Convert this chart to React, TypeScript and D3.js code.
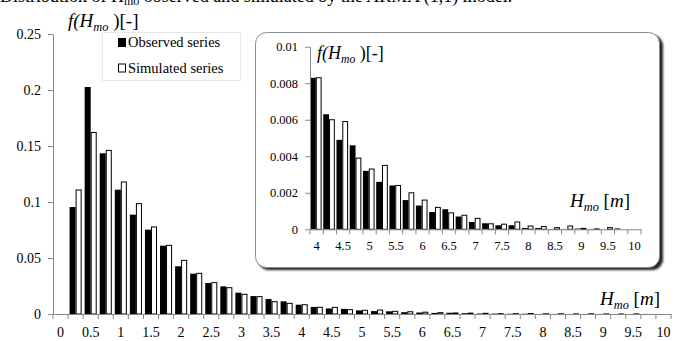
import { useEffect, useRef } from "react";
import * as d3 from "d3";

// bins of H_mo [m], 0.25 m wide
const categories = [
  "0", "0.25", "0.5", "0.75", "1", "1.25", "1.5", "1.75", "2", "2.25",
  "2.5", "2.75", "3", "3.25", "3.5", "3.75", "4", "4.25", "4.5", "4.75",
  "5", "5.25", "5.5", "5.75", "6", "6.25", "6.5", "6.75", "7", "7.25",
  "7.5", "7.75", "8", "8.25", "8.5", "8.75", "9", "9.25", "9.5", "9.75", "10",
];
const observed = [
  0, 0.0955, 0.2027, 0.1435, 0.111, 0.0887, 0.0753, 0.061, 0.0426, 0.036,
  0.0277, 0.0247, 0.019, 0.016, 0.0134, 0.0113, 0.0083, 0.0063, 0.0049, 0.0046,
  0.0032, 0.0026, 0.0024, 0.0016, 0.0013, 0.00095, 0.0011, 0.0007, 0.0004, 0.00033,
  0.00022, 0.00022, 0.00007, 0.00007, 0.00002, 0.00002, 0.00004, 0.00002, 0, 0.00005, 0,
];
const simulated = [
  0, 0.1107, 0.1621, 0.1461, 0.1179, 0.0985, 0.0777, 0.0613, 0.0479, 0.0363,
  0.028, 0.0235, 0.0176, 0.0155, 0.011, 0.0095, 0.0083, 0.006, 0.0059, 0.0039,
  0.0033, 0.0035, 0.0024, 0.002, 0.0016, 0.0012, 0.0009, 0.00077, 0.0006, 0.0003,
  0.00028, 0.0004, 0.00018, 0.00015, 0.00009, 0.00018, 0.00005, 0.00002, 0.00009, 0, 0,
];
const xTickLabels = [
  "0", "0.5", "1", "1.5", "2", "2.5", "3", "3.5", "4", "4.5", "5",
  "5.5", "6", "6.5", "7", "7.5", "8", "8.5", "9", "9.5", "10",
];
const mainYTicks = [0, 0.05, 0.1, 0.15, 0.2, 0.25];
const insetYTicks = [0, 0.002, 0.004, 0.006, 0.008, 0.01];
const insetFrom = "4";

const W = 693;
const H = 341;
const FONT = "Liberation Serif, DejaVu Serif, serif";
const AXIS = "#868686";

type G = d3.Selection<SVGGElement, unknown, null, undefined>;

function drawPanel(
  g: G,
  cats: string[],
  obs: number[],
  sim: number[],
  xr: [number, number],
  yr: [number, number],
  ymax: number,
  yTicks: number[],
  outerPad: number,
  align: number,
  fs: number
) {
  const x = d3.scaleBand<string>().domain(cats).range(xr).padding(0);
  const sub = d3
    .scaleBand<string>()
    .domain(["obs", "sim"])
    .range([0, x.bandwidth()])
    .paddingInner(0)
    .paddingOuter(outerPad)
    .align(align);
  const y = d3.scaleLinear().domain([0, ymax]).range(yr);

  const rows = cats.map((c, i) => ({ c, o: obs[i], s: sim[i] }));

  // bars
  g.selectAll("rect.obs")
    .data(rows)
    .join("rect")
    .attr("class", "obs")
    .attr("x", (d) => x(d.c)! + sub("obs")!)
    .attr("y", (d) => y(d.o))
    .attr("width", sub.bandwidth())
    .attr("height", (d) => y(0) - y(d.o))
    .attr("fill", "#000");
  g.selectAll("rect.sim")
    .data(rows)
    .join("rect")
    .attr("class", "sim")
    .attr("x", (d) => x(d.c)! + sub("sim")! + 0.5)
    .attr("y", (d) => y(d.s))
    .attr("width", sub.bandwidth() - 1)
    .attr("height", (d) => Math.max(0, y(0) - y(d.s)))
    .attr("fill", "#fff")
    .attr("stroke", "#000")
    .attr("stroke-width", 1);

  // x axis: labels every other bin, tick marks on bin edges
  const xa = g
    .append("g")
    .attr("transform", `translate(0,${y(0)})`)
    .call(
      d3
        .axisBottom(x)
        .tickSize(0)
        .tickSizeOuter(0)
        .tickPadding(fs * 0.95)
        .tickFormat((d) => (xTickLabels.includes(d) ? d : ""))
    );
  xa.attr("font-family", null);
  xa.select(".domain").attr("stroke", AXIS);
  xa.selectAll("text").style("font-family", FONT).attr("font-size", fs).attr("fill", "#000");
  const edges = cats.map((c) => x(c)!).concat([xr[1]]);
  xa.selectAll("line.edge")
    .data(edges)
    .join("line")
    .attr("class", "edge")
    .attr("x1", (d) => d)
    .attr("x2", (d) => d)
    .attr("y1", 0)
    .attr("y2", 5)
    .attr("stroke", AXIS);

  // y axis
  const ya = g
    .append("g")
    .attr("transform", `translate(${xr[0]},0)`)
    .call(
      d3
        .axisLeft(y)
        .tickValues(yTicks)
        .tickSize(5)
        .tickSizeOuter(0)
        .tickPadding(7)
        .tickFormat((d) => String(d))
    );
  ya.attr("font-family", null);
  ya.select(".domain").attr("stroke", AXIS);
  ya.selectAll("line").attr("stroke", AXIS);
  ya.selectAll("text").style("font-family", FONT).attr("font-size", fs).attr("fill", "#000");
}

function label(g: G, x: number, y: number, fs: number, kind: "f" | "h") {
  const t = g
    .append("text")
    .attr("x", x)
    .attr("y", y)
    .style("font-family", FONT)
    .attr("font-size", fs)
    .attr("fill", "#000");
  if (kind === "f") {
    t.append("tspan").attr("font-style", "italic").text("f(H");
    t.append("tspan").attr("font-style", "italic").attr("font-size", fs * 0.65).attr("dy", fs * 0.2).text("mo");
    t.append("tspan").attr("dy", -fs * 0.2).text(" )[-]");
  } else {
    t.append("tspan").attr("font-style", "italic").text("H");
    t.append("tspan").attr("font-style", "italic").attr("font-size", fs * 0.65).attr("dy", fs * 0.2).text("mo");
    t.append("tspan").attr("dy", -fs * 0.2).text(" [");
    t.append("tspan").attr("font-style", "italic").text("m");
    t.append("tspan").text("]");
  }
}

export default function App() {
  const svgRef = useRef<SVGSVGElement | null>(null);

  useEffect(() => {
    const svg = d3.select(svgRef.current);
    svg.selectAll("*").remove();
    svg.append("rect").attr("width", W).attr("height", H).attr("fill", "#fff");

    const defs = svg.append("defs");
    defs
      .append("filter")
      .attr("id", "blur")
      .attr("x", "-5%")
      .attr("y", "-5%")
      .attr("width", "110%")
      .attr("height", "110%")
      .append("feGaussianBlur")
      .attr("stdDeviation", 1.3);

    // caption line, cut off at the top of the picture as in the source
    const cap = svg
      .append("text")
      .attr("x", 0)
      .attr("y", 2)
      .style("font-family", FONT)
      .attr("font-size", 18)
      .attr("fill", "#000");
    cap.append("tspan").text("Distribution of H");
    cap.append("tspan").attr("font-size", 12).attr("dy", 3).text("mo");
    cap.append("tspan").attr("dy", -3).text(" observed and simulated by the ARMA (1,1) model.");

    // main chart
    const main = svg.append("g") as G;
    drawPanel(main, categories, observed, simulated, [53, 671], [314, 34], 0.25, mainYTicks, 0.25, 0.5, 14);
    label(main, 68, 27, 19, "f");
    label(main, 600, 305, 19, "h");

    // legend
    const lg = svg.append("g");
    lg.append("rect")
      .attr("x", 102.5)
      .attr("y", 32.5)
      .attr("width", 138)
      .attr("height", 48)
      .attr("fill", "#fff")
      .attr("stroke", "#e8e8e8");
    const items = [
      { name: "Observed series", fill: "#000" },
      { name: "Simulated series", fill: "#fff" },
    ];
    items.forEach((it, i) => {
      const yy = 47 + i * 25.5;
      lg.append("rect")
        .attr("x", 118.5)
        .attr("y", yy - 8.5)
        .attr("width", 7)
        .attr("height", 8)
        .attr("fill", it.fill)
        .attr("stroke", "#000");
      lg.append("text")
        .attr("x", 128)
        .attr("y", yy)
        .style("font-family", FONT)
        .attr("font-size", 14.5)
        .attr("fill", "#000")
        .text(it.name);
    });

    // inset
    const i0 = categories.indexOf(insetFrom);
    const ins = svg.append("g") as G;
    ins.append("rect")
      .attr("x", 258)
      .attr("y", 35)
      .attr("width", 405)
      .attr("height", 235)
      .attr("rx", 11)
      .attr("fill", "#222")
      .attr("filter", "url(#blur)");
    ins.append("rect")
      .attr("x", 255.5)
      .attr("y", 32.5)
      .attr("width", 404)
      .attr("height", 235)
      .attr("rx", 11)
      .attr("fill", "#fff")
      .attr("stroke", "#8c8c8c");
    drawPanel(
      ins,
      categories.slice(i0),
      observed.slice(i0),
      simulated.slice(i0),
      [310, 641],
      [229.3, 46.7],
      0.01,
      insetYTicks,
      0.14,
      0,
      12.5
    );
    label(ins, 317, 59, 18, "f");
    label(ins, 570, 207, 19, "h");
  }, []);

  return (
    <svg
      ref={svgRef}
      width={W}
      height={H}
      style={{ position: "absolute", left: 0, top: 0, display: "block" }}
    ></svg>
  );
}
